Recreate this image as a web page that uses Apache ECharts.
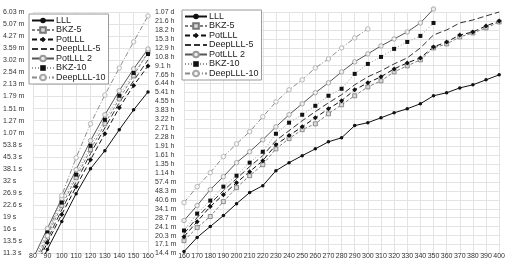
<!DOCTYPE html>
<html>
<head>
<meta charset="utf-8">
<script src="https://cdn.jsdelivr.net/npm/echarts@6/dist/echarts.min.js"></script>
<style>
html, body { margin: 0; padding: 0; background: #fff; }
#main { width: 508px; height: 260px; }
</style>
</head>
<body>
<div id="main"></div>
<script>
var names = ['LLL', 'BKZ-5', 'PotLLL', 'DeepLLL-5', 'PotLLL 2', 'BKZ-10', 'DeepLLL-10'];

//left chart: dimension 80-160, time in seconds
var leftDims = [80, 90, 100, 110, 120, 130, 140, 150, 160];
var lLLL = [7.8, 12.0, 17.9, 26.7, 38.2, 49.5, 66.8, 88.9, 115];
var lBKZ5 = [9.53, 14.6, 22.5, 33.6, 50.2, 72.8, 104, 145, 204];
var lPotLLL = [8.74, 13.2, 19.8, 29.5, 43.5, 63.1, 91.6, 126, 167];
var lDeep5 = [9.13, 13.8, 21.2, 31.7, 47.4, 68.7, 98.4, 135, 182];
var lPot2 = [10.5, 16.2, 24.9, 37.7, 57.1, 82.8, 117, 160, 213];
var lBKZ10 = [9.95, 15.3, 23.5, 35.1, 53.1, 77.1, 109, 151, 198];
var lDeep10 = [8.02, 14.6, 26.0, 44.7, 72.8, 110, 162, 236, 342];

//right chart: dimension 160-400, time in minutes
var rightDims = [160, 170, 180, 190, 200, 210, 220, 230, 240, 250, 260, 270, 280,
	290, 300, 310, 320, 330, 340, 350, 360, 370, 380, 390, 400];
var rLLL = [14.9, 19.6, 24.2, 29.9, 37.7, 46.7, 53.4, 71.4, 83.4, 95.5, 109, 125, 135,
	171, 181, 199, 219, 237, 261, 305, 323, 355, 377, 415, 457];
var rBKZ5 = [18.4, 23.7, 29.4, 39.2, 51.4, 64.8, 80.2, 109, 133, 158, 177, 215, 256,
	305, 362, 407, 484, 544, 611, 770, 832, 953, 1029, 1134, 1273];
var rPotLLL = [19.9, 26.6, 35.6, 44.9, 56.6, 70.1, 86.7, 118, 141, 167, 199, 237, 277,
	342, 392, 440, 513, 576, 635, 785, 865, 990, 1049, 1179, 1298];
var rDeep5 = [21.1, 28.8, 37.7, 48.5, 61.2, 77.2, 95.5, 128, 155, 188, 224, 266, 311,
	377, 440, 494, 565, 635, 770, 990, 1091, 1249, 1324, 1430, 1545];
var rPot2 = [27.2, 36.3, 49.5, 63.6, 83.4, 103, 130, 167, 211, 261, 323, 392, 484,
	588, 686, 801, 917, 1049, 1249, 1637];
var rBKZ10 = [22.4, 31.1, 40.0, 52.4, 64.8, 83.4, 103, 146, 181, 211, 251, 305, 349,
	466, 565, 647, 756, 865, 972, 1249];
var rDeep10 = [38.5, 52.4, 68.7, 93.6, 120, 152, 203, 271, 342, 415, 523, 623, 770, 935, 1112];

//tick labels, bottom to top
var leftTicks = ['11.3 s', '13.5 s', '16 s', '19 s', '22.6 s', '26.9 s', '32 s', '38.1 s',
	'45.3 s', '53.8 s', '1.07 m', '1.27 m', '1.51 m', '1.79 m', '2.13 m', '2.54 m',
	'3.02 m', '3.59 m', '4.27 m', '5.07 m', '6.03 m'];
var rightTicks = ['14.4 m', '17.1 m', '20.3 m', '24.1 m', '28.7 m', '34.1 m', '40.6 m',
	'48.3 m', '57.4 m', '1.14 h', '1.35 h', '1.61 h', '1.91 h', '2.28 h', '2.71 h',
	'3.22 h', '3.83 h', '4.55 h', '5.41 h', '6.44 h', '7.65 h', '9.1 h', '10.8 h',
	'12.9 h', '15.3 h', '18.2 h', '21.6 h', '1.07 d'];

var leftTimes = [lLLL, lBKZ5, lPotLLL, lDeep5, lPot2, lBKZ10, lDeep10];
var rightTimes = [rLLL, rBKZ5, rPotLLL, rDeep5, rPot2, rBKZ10, rDeep10];

// quarter-octave steps above the lowest tick
function leftStep(sec) {
	return 4 * (Math.log2(sec) - 3.5);
}
function rightStep(min) {
	return 4 * (Math.log2(min * 60) - 9.75);
}

var clear = 'rgba(0,0,0,0)';
var looks = {
	'LLL': { line: '#111', dash: 'solid', symbol: 'circle', size: 3.5, fill: '#111', border: '#111', bw: 0 },
	'BKZ-5': { line: '#808080', dash: [3, 2], symbol: 'rect', size: 4, fill: '#dadada', border: '#777', bw: 0.8 },
	'PotLLL': { line: '#111', dash: [5, 3], symbol: 'diamond', size: 5, fill: '#111', border: '#111', bw: 0 },
	'DeepLLL-5': { line: '#333', dash: [6, 3], symbol: 'none', size: 0, fill: clear, border: clear, bw: 0 },
	'PotLLL 2': { line: '#555', dash: 'solid', symbol: 'circle', size: 4.5, fill: '#eee', border: '#999', bw: 0.8 },
	'BKZ-10': { line: '#999', dash: [1, 2], symbol: 'rect', size: 4, fill: '#111', border: '#111', bw: 0 },
	'DeepLLL-10': { line: '#8a8a8a', dash: [5, 2, 1, 2], symbol: 'circle', size: 4.5, fill: '#f6f6f6', border: '#aaa', bw: 0.8 }
};

function makeSeries(name, dims, vals, conv, idx) {
	var lk = looks[name];
	var data = [];
	for(var i = 0; i < vals.length; i++) {
		data.push([dims[i], conv(vals[i])]);
	}
	return {
		name: name,
		type: 'line',
		xAxisIndex: idx,
		yAxisIndex: idx,
		data: data,
		symbol: lk.symbol,
		symbolSize: lk.size,
		clip: idx === 0,
		lineStyle: { color: lk.line, width: 1, type: lk.dash },
		itemStyle: { color: lk.fill, borderColor: lk.border, borderWidth: lk.bw },
		emphasis: { disabled: true }
	};
}

var series = [];
for(var i = 0; i < names.length; i++) {
	series.push(makeSeries(names[i], leftDims, leftTimes[i], leftStep, 0));
}
for(var i = 0; i < names.length; i++) {
	series.push(makeSeries(names[i], rightDims, rightTimes[i], rightStep, 1));
}

var font = "'Liberation Sans', Arial, sans-serif";
var gridLine = { lineStyle: { color: '#e3e3e3', width: 1 } };

function legendAt(left, top) {
	return {
		data: names,
		orient: 'vertical',
		left: left,
		top: top,
		itemWidth: 22,
		itemHeight: 7,
		itemGap: 0.5,
		padding: [2, 3, 2, 2],
		backgroundColor: '#fff',
		borderColor: '#999',
		borderWidth: 1,
		selectedMode: false,
		textStyle: { fontSize: 9, color: '#222', fontFamily: font, padding: [0, 0, 0, -3] }
	};
}

function xAxisFor(idx, min, max) {
	return {
		gridIndex: idx,
		type: 'value',
		min: min,
		max: max,
		interval: 10,
		axisLine: { show: false },
		axisTick: { show: false },
		axisLabel: { fontSize: 7, color: '#333', fontFamily: font, margin: 3, verticalAlign: 'middle' },
		splitLine: gridLine
	};
}

function yAxisFor(idx, ticks, margin) {
	return {
		gridIndex: idx,
		type: 'value',
		min: 0,
		max: ticks.length - 1,
		interval: 1,
		axisLine: { show: false },
		axisTick: { show: false },
		axisLabel: {
			fontSize: 7,
			color: '#333',
			fontFamily: font,
			margin: margin,
			align: 'left',
			formatter: function(v) {
				return ticks[Math.round(v)];
			}
		},
		splitLine: gridLine
	};
}

var myChart = echarts.init(document.getElementById('main'));
myChart.setOption({
	animation: false,
	backgroundColor: '#fff',
	grid: [
		{ left: 31, right: 360, top: 12, bottom: 6 },
		{ left: 184, right: 6, top: 12, bottom: 6 }
	],
	legend: [legendAt(29, 14), legendAt(182, 10)],
	xAxis: [xAxisFor(0, 80, 160), xAxisFor(1, 160, 400)],
	yAxis: [yAxisFor(0, leftTicks, 30), yAxisFor(1, rightTicks, 29)],
	series: series
});
</script>
</body>
</html>
